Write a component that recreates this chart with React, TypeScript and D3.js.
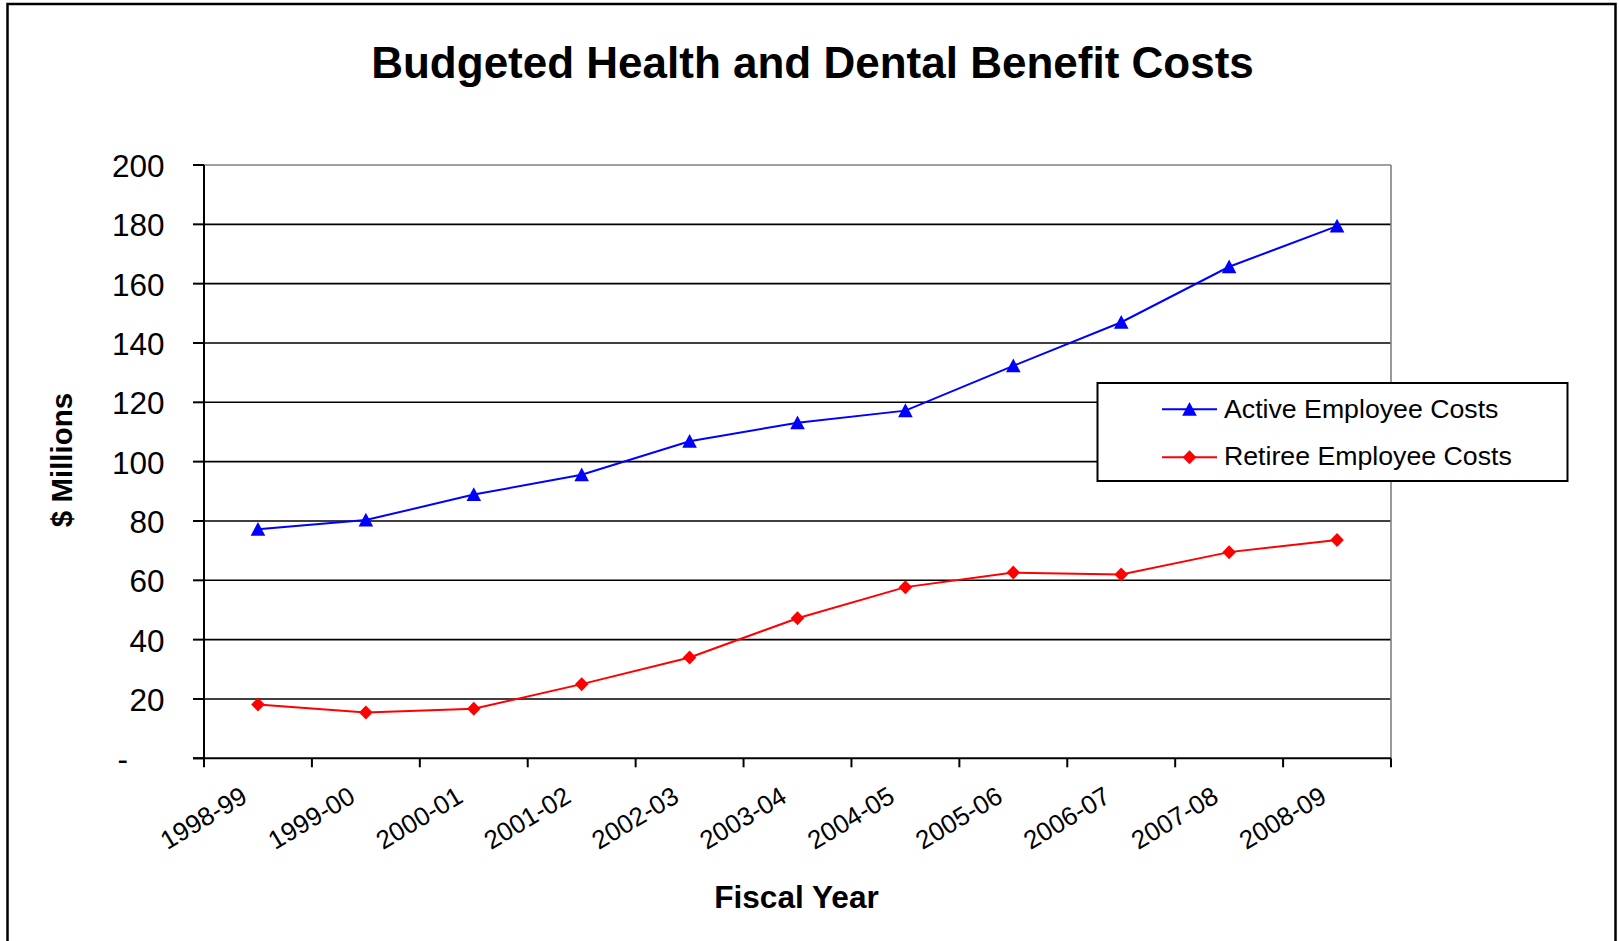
import React from 'react';
import * as d3 from 'd3';

const categories = ['1998-99', '1999-00', '2000-01', '2001-02', '2002-03', '2003-04', '2004-05', '2005-06', '2006-07', '2007-08', '2008-09'];
const activeCosts = [77.2, 80.3, 88.9, 95.6, 106.9, 113.1, 117.2, 132.3, 147.0, 165.7, 179.4];
const retireeCosts = [18.1, 15.4, 16.7, 25.0, 34.0, 47.2, 57.7, 62.6, 62.0, 69.5, 73.6];
const yTicks = [0, 20, 40, 60, 80, 100, 120, 140, 160, 180, 200];
const seriesNames = ['Active Employee Costs', 'Retiree Employee Costs'];

const W = 1619;
const H = 941;
const FONT = '"Liberation Sans", Arial, sans-serif';

export default function App() {
  const left = 204, right = 1391, top = 165, bottom = 758.3;
  const x = d3.scaleBand<string>().domain(categories).range([left, right]);
  const y = d3.scaleLinear().domain([0, 200]).range([bottom, top]);
  const cx = (c: string) => (x(c) as number) + x.bandwidth() / 2;
  const line = d3.line<number>().x((_, i) => cx(categories[i])).y((v) => y(v));
  const boundaries = [...categories.map((c) => x(c) as number), right];
  const tri = (px: number, py: number) => `M${px},${py - 7.3}L${px + 7.3},${py + 6.5}L${px - 7.3},${py + 6.5}Z`;
  const dia = (px: number, py: number) => `M${px},${py - 7}L${px + 6.8},${py}L${px},${py + 7}L${px - 6.8},${py}Z`;

  const legX = 1097.5, legY = 383, legW = 470, legH = 98;
  const rows = [409.3, 457.3];
  const textRows = [418.3, 465.3];

  return (
    <svg width={W} height={H} style={{ position: 'absolute', left: 0, top: 0, display: 'block', background: '#fff' }} fontFamily={FONT}>
      <rect x={0} y={0} width={W} height={H} fill="#fff" />
      <rect x={7.5} y={4} width={1608} height={960} fill="none" stroke="#000" strokeWidth={2.5} />

      <text x={812.5} y={77.7} textAnchor="middle" fontSize={44} fontWeight="bold">Budgeted Health and Dental Benefit Costs</text>

      {/* gridlines */}
      {yTicks.filter((t) => t > 0 && t < 200).map((t) => (
        <line key={t} x1={left} x2={right} y1={y(t)} y2={y(t)} stroke="#000" strokeWidth={1.6} />
      ))}
      <line x1={left} x2={right} y1={y(200)} y2={y(200)} stroke="#808080" strokeWidth={1.6} />
      <line x1={right} x2={right} y1={top} y2={bottom} stroke="#808080" strokeWidth={1.6} />

      {/* axes */}
      <line x1={left} x2={left} y1={top} y2={bottom} stroke="#000" strokeWidth={2} />
      <line x1={left - 11} x2={right} y1={bottom} y2={bottom} stroke="#000" strokeWidth={2} />
      {yTicks.map((t) => (
        <line key={'yt' + t} x1={left - 11} x2={left} y1={y(t)} y2={y(t)} stroke="#000" strokeWidth={2} />
      ))}
      {boundaries.map((b, i) => (
        <line key={'xt' + i} x1={b} x2={b} y1={bottom} y2={bottom + 9} stroke="#000" strokeWidth={2} />
      ))}

      {/* y tick labels */}
      {yTicks.map((t) => (
        <text key={'yl' + t} x={t === 0 ? 128 : 164.5} y={y(t) + 12} textAnchor="end" fontSize={31.5}>
          {t === 0 ? '-' : d3.format('d')(t)}
        </text>
      ))}

      {/* x tick labels */}
      {categories.map((c) => (
        <text key={'xl' + c} transform={`translate(${cx(c) - 9},${801}) rotate(-31)`} textAnchor="end" fontSize={26}>
          {c}
        </text>
      ))}

      {/* axis titles */}
      <text transform={`translate(71.5,460) rotate(-90)`} textAnchor="middle" fontSize={29.5} fontWeight="bold">$ Millions</text>
      <text x={796.5} y={907.7} textAnchor="middle" fontSize={31.6} fontWeight="bold">Fiscal Year</text>

      {/* series */}
      <path d={line(activeCosts) as string} fill="none" stroke="#0000FF" strokeWidth={2} />
      {activeCosts.map((v, i) => (
        <path key={'a' + i} d={tri(cx(categories[i]), y(v))} fill="#0000FF" />
      ))}
      <path d={line(retireeCosts) as string} fill="none" stroke="#FF0000" strokeWidth={2} />
      {retireeCosts.map((v, i) => (
        <path key={'r' + i} d={dia(cx(categories[i]), y(v))} fill="#FF0000" />
      ))}

      {/* legend */}
      <rect x={legX} y={legY} width={legW} height={legH} fill="#fff" stroke="#000" strokeWidth={2} />
      <line x1={1162} x2={1217} y1={rows[0]} y2={rows[0]} stroke="#0000FF" strokeWidth={2} />
      <path d={tri(1189.5, rows[0])} fill="#0000FF" />
      <text x={1224} y={textRows[0]} fontSize={26.7}>{seriesNames[0]}</text>
      <line x1={1162} x2={1217} y1={rows[1]} y2={rows[1]} stroke="#FF0000" strokeWidth={2} />
      <path d={dia(1189.5, rows[1])} fill="#FF0000" />
      <text x={1224} y={textRows[1]} fontSize={26.7}>{seriesNames[1]}</text>
    </svg>
  );
}
